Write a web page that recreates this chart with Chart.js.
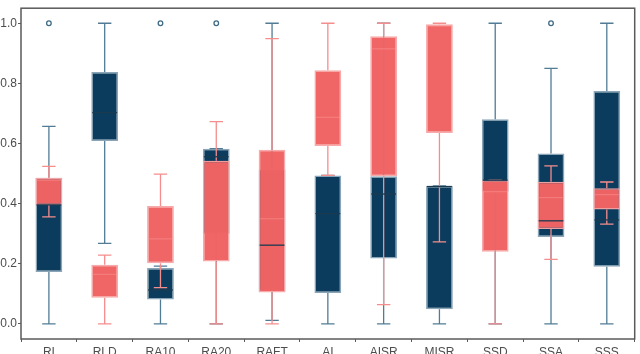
<!DOCTYPE html>
<html>
<head>
<meta charset="utf-8">
<script src="https://cdn.jsdelivr.net/npm/chart.js@4.4.1/dist/chart.umd.min.js"></script>
<style>
  body { margin: 0; background: #fff; }
  #wrap { width: 640px; height: 354px; }
</style>
</head>
<body>
<div id="wrap"><canvas id="myChart" width="640" height="354"></canvas></div>
<script>
const labels = ['RI', 'RLD', 'RA10', 'RA20', 'RAFT', 'AI', 'AISR', 'MISR', 'SSD', 'SSA', 'SSS'];
const yTicks = [0, 0.2, 0.4, 0.6, 0.8, 1.0];

// dark series
const navyMin = [0, 0.268, 0, 0, 0.012, 0, 0, 0, 0, 0, 0];
const navyQ1 = [0.173, 0.608, 0.081, 0.3, 0.11, 0.103, 0.218, 0.049, 0.44, 0.289, 0.19];
const navyMed = [0.396, 0.703, 0.113, 0.556, 0.262, 0.367, 0.432, 0.457, 0.478, 0.343, 0.346];
const navyQ3 = [0.486, 0.838, 0.186, 0.583, 0.514, 0.494, 0.491, 0.459, 0.681, 0.567, 0.775];
const navyMax = [0.657, 1.0, 0.192, 0.583, 1.0, 0.494, 1.0, 0.459, 1.0, 0.85, 1.0];
const navyOut = [1, null, 1, 1, null, null, null, null, null, 1, null];

// light series
const salmonMin = [0.356, 0, 0.121, 0, 0, 0.494, 0.064, 0.273, 0, 0.215, 0.332];
const salmonQ1 = [0.396, 0.087, 0.202, 0.208, 0.105, 0.592, 0.491, 0.635, 0.24, 0.316, 0.381];
const salmonMed = [0.478, 0.165, 0.283, 0.54, 0.35, 0.687, 0.915, 0.99, 0.44, 0.42, 0.43];
const salmonQ3 = [0.486, 0.197, 0.392, 0.543, 0.579, 0.844, 0.957, 0.997, 0.478, 0.473, 0.451];
const salmonMax = [0.524, 0.229, 0.498, 0.673, 0.949, 1.0, 1.0, 1.0, 0.478, 0.526, 0.472];

const boxStats = {
  0: { min: navyMin, max: navyMax, q1: navyQ1, q3: navyQ3, color: '#527c95' },
  1: { min: salmonMin, max: salmonMax, q1: salmonQ1, q3: salmonQ3, color: '#f58d8d' },
};

const whiskers = {
  id: 'whiskers',
  afterDatasetDraw(chart, args) {
    const s = boxStats[args.index];
    if (!s) return;
    const ctx = chart.ctx;
    const y = chart.scales.y;
    ctx.save();
    ctx.strokeStyle = s.color;
    ctx.lineWidth = 1.3;
    args.meta.data.forEach((bar, i) => {
      const cap = bar.width / 4;
      ctx.beginPath();
      ctx.moveTo(bar.x, y.getPixelForValue(s.q3[i]));
      ctx.lineTo(bar.x, y.getPixelForValue(s.max[i]));
      ctx.moveTo(bar.x, y.getPixelForValue(s.q1[i]));
      ctx.lineTo(bar.x, y.getPixelForValue(s.min[i]));
      ctx.moveTo(bar.x - cap, y.getPixelForValue(s.max[i]));
      ctx.lineTo(bar.x + cap, y.getPixelForValue(s.max[i]));
      ctx.moveTo(bar.x - cap, y.getPixelForValue(s.min[i]));
      ctx.lineTo(bar.x + cap, y.getPixelForValue(s.min[i]));
      ctx.stroke();
    });
    ctx.restore();
  },
  afterDatasetsDraw(chart) {
    const ctx = chart.ctx;
    const y = chart.scales.y;
    const a = chart.chartArea;
    ctx.save();
    ctx.lineWidth = 1.3;
    chart.getDatasetMeta(1).data.forEach((bar, i) => {
      ctx.strokeStyle = 'rgba(250,150,150,0.45)';
      ctx.beginPath();
      ctx.moveTo(bar.x - bar.width / 2 + 1, y.getPixelForValue(salmonMed[i]));
      ctx.lineTo(bar.x + bar.width / 2 - 1, y.getPixelForValue(salmonMed[i]));
      ctx.stroke();
    });
    chart.getDatasetMeta(0).data.forEach((bar, i) => {
      ctx.strokeStyle = '#1b3a50';
      ctx.beginPath();
      ctx.moveTo(bar.x - bar.width / 2 + 1, y.getPixelForValue(navyMed[i]));
      ctx.lineTo(bar.x + bar.width / 2 - 1, y.getPixelForValue(navyMed[i]));
      ctx.stroke();
    });
    // panel frame
    ctx.strokeStyle = '#5a5a5a';
    ctx.lineWidth = 1.5;
    ctx.strokeRect(a.left, a.top, a.right - a.left, a.bottom - a.top);
    ctx.restore();
  },
};

const ctx = document.getElementById('myChart').getContext('2d');
window.myChart = new Chart(ctx, {
  type: 'bar',
  data: {
    labels,
    datasets: [
      {
        label: 'dark',
        data: navyQ1.map((v, i) => [v, navyQ3[i]]),
        backgroundColor: '#0b3c5d',
        borderColor: 'rgba(125,155,175,0.9)',
        borderWidth: 1.5,
        borderSkipped: false,
        grouped: false,
        order: 3,
      },
      {
        label: 'light',
        data: salmonQ1.map((v, i) => [v, salmonQ3[i]]),
        backgroundColor: 'rgba(240,99,99,0.99)',
        borderColor: 'rgba(248,165,165,0.95)',
        borderWidth: 1.5,
        borderSkipped: false,
        grouped: false,
        order: 2,
      },
      {
        type: 'line',
        label: 'outliers',
        data: navyOut,
        showLine: false,
        pointRadius: 2.3,
        pointBackgroundColor: '#fff',
        pointBorderColor: '#3f6b86',
        pointBorderWidth: 1.3,
        order: 1,
      },
    ],
  },
  options: {
    responsive: false,
    animation: false,
    layout: { padding: { top: 1, right: 2, left: 0, bottom: 0 } },
    categoryPercentage: 1,
    barPercentage: 0.48,
    plugins: { legend: { display: false }, tooltip: { enabled: false } },
    scales: {
      x: {
        offset: true,
        grid: { display: true, drawOnChartArea: false, drawTicks: true, tickLength: 3, color: '#5a5a5a' },
        border: { display: false },
        ticks: { color: '#4d4d4d', padding: 3, font: { family: 'Liberation Sans', size: 12 }, maxRotation: 0 },
        afterFit: (axis) => { axis.height = 15; },
      },
      y: {
        min: -0.05,
        max: 1.05,
        grid: { display: true, drawOnChartArea: false, drawTicks: true, tickLength: 3, color: '#5a5a5a' },
        border: { display: false },
        afterBuildTicks: (axis) => { axis.ticks = yTicks.map((v) => ({ value: v })); },
        ticks: {
          color: '#4d4d4d',
          padding: 1,
          font: { family: 'Liberation Sans', size: 12 },
          callback: (v) => Number(v).toFixed(1),
        },
        afterFit: (axis) => { axis.width = 21; },
      },
    },
  },
  plugins: [whiskers],
});
</script>
</body>
</html>
